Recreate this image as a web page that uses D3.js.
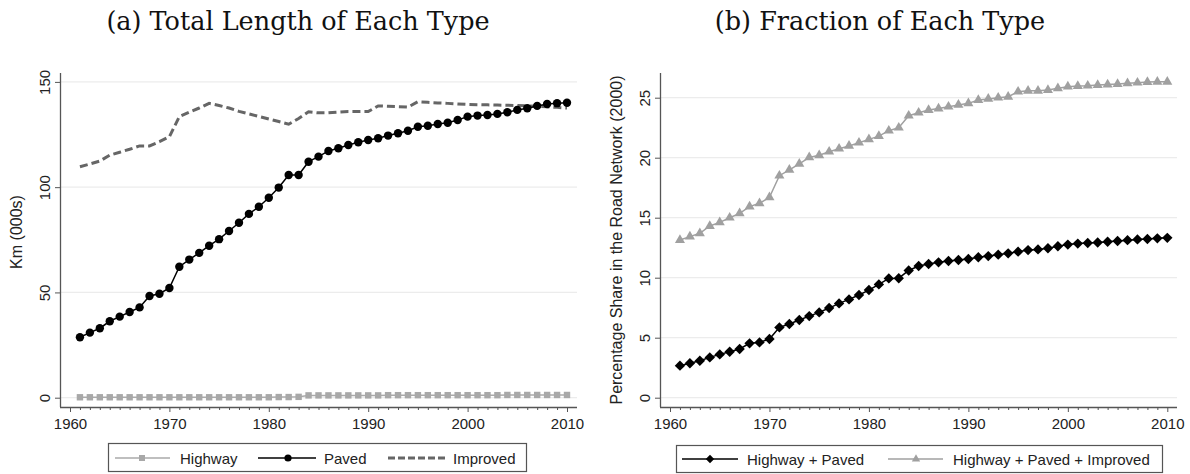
<!DOCTYPE html>
<html><head><meta charset="utf-8">
<script src="https://cdn.jsdelivr.net/npm/d3@7"></script>
<style>body{margin:0;background:#fff}svg{display:block}</style>
</head><body>
<svg id="c" width="1190" height="474"></svg>
<script>
const years = d3.range(1961, 2011);
const highway = [0.2,0.2,0.2,0.2,0.2,0.2,0.2,0.2,0.2,0.2,0.2,0.2,0.2,0.2,0.2,0.2,0.2,0.2,0.2,0.2,0.3,0.3,0.4,1.1,1.1,1.1,1.1,1.1,1.1,1.1,1.1,1.2,1.2,1.2,1.2,1.2,1.2,1.2,1.2,1.2,1.2,1.2,1.2,1.3,1.3,1.3,1.3,1.3,1.3,1.3];
const paved = [28.7,30.9,33.0,36.3,38.5,40.7,42.9,48.3,49.4,52.1,62.2,65.6,68.8,72.2,75.3,79.2,83.1,87.3,90.7,95.0,99.8,105.8,105.8,112.1,114.5,117.2,118.5,120.0,121.3,122.4,123.2,124.5,125.6,126.8,128.7,129.2,130.0,130.6,131.9,133.5,134.0,134.3,134.8,135.6,136.7,137.5,138.6,139.5,139.9,140.1];
const improved = [109.7,111.0,112.4,115.2,116.6,118.0,119.6,119.6,121.6,124.0,133.5,135.6,137.6,139.8,138.8,137.6,136.0,134.8,133.6,132.4,131.2,129.9,132.6,135.8,135.3,135.3,135.6,135.9,135.9,135.9,138.6,138.4,138.2,138.0,140.6,140.3,140.0,139.8,139.5,139.3,139.2,139.1,139.0,138.9,138.8,138.6,138.4,138.2,137.9,137.6];
const hwPaved = [2.67,2.87,3.08,3.36,3.61,3.83,4.06,4.53,4.61,4.89,5.86,6.14,6.47,6.80,7.11,7.47,7.86,8.19,8.56,8.97,9.44,9.94,9.96,10.6,10.97,11.14,11.28,11.39,11.47,11.56,11.70,11.80,11.92,12.03,12.17,12.30,12.36,12.45,12.62,12.76,12.84,12.89,12.93,13.00,13.06,13.13,13.19,13.23,13.28,13.32];
const hwPavedImp = [13.14,13.42,13.70,14.31,14.61,15.00,15.36,15.92,16.20,16.70,18.50,18.98,19.48,20.03,20.20,20.50,20.75,20.98,21.25,21.53,21.80,22.25,22.50,23.50,23.75,23.97,24.10,24.25,24.40,24.53,24.80,24.90,25.00,25.08,25.50,25.58,25.58,25.64,25.78,25.92,25.97,26.00,26.06,26.10,26.14,26.20,26.25,26.30,26.33,26.33];
const xTicks = [1960,1970,1980,1990,2000,2010];
const yTicksA = [0,50,100,150];
const yTicksB = [0,5,10,15,20,25];
const titles = ["(a) Total Length of Each Type","(b) Fraction of Each Type"];
const yLabels = ["Km (000s)","Percentage Share in the Road Network (2000)"];
const legendA = ["Highway","Paved","Improved"];
const legendB = ["Highway + Paved","Highway + Paved + Improved"];

const svg = d3.select("#c");
const axisCol = "#555", gridCol = "#ececec", sans = "'Liberation Sans', Arial, sans-serif";
const diaPath = "M0,-5.2L5.2,0L0,5.2L-5.2,0Z";
const tri = d3.symbol().type(d3.symbolTriangle).size(44)();

function panel(cfg){
  const g = svg.append("g");
  const x = d3.scaleLinear().domain([1960,2010]).range([cfg.x0, cfg.x1]);
  const y = d3.scaleLinear().domain(cfg.ydom).range(cfg.yr);
  g.append("g").selectAll("line").data(cfg.yticks).join("line")
    .attr("x1", cfg.left).attr("x2", cfg.right).attr("y1", d=>y(d)).attr("y2", d=>y(d))
    .attr("stroke", gridCol).attr("stroke-width",1.2);
  const xa = g.append("g").attr("transform",`translate(0,${cfg.bottom})`)
    .call(d3.axisBottom(x).tickValues(xTicks).tickFormat(d3.format("d")).tickSize(5).tickSizeOuter(0));
  g.append("g").attr("transform",`translate(0,${cfg.bottom})`)
    .call(d3.axisBottom(x).tickValues(d3.range(1961,2011).filter(v=>v%10)).tickFormat("").tickSize(3).tickSizeOuter(0))
    .call(s=>s.select(".domain").remove())
    .selectAll("line").attr("stroke",axisCol);
  xa.select(".domain").attr("d",`M${cfg.left},0.5H${cfg.right}`).attr("stroke",axisCol).attr("stroke-width",1.3);
  xa.selectAll("line").attr("stroke",axisCol);
  xa.selectAll("text").attr("font-family",sans).attr("font-size",15).attr("fill","#222").attr("dy","0.95em");
  const ya = g.append("g").attr("transform",`translate(${cfg.left},0)`)
    .call(d3.axisLeft(y).tickValues(cfg.yticks).tickSize(5).tickSizeOuter(0));
  ya.select(".domain").attr("d",`M0.5,${cfg.top}V${cfg.bottom}`).attr("stroke",axisCol).attr("stroke-width",1.3);
  ya.selectAll("line").attr("stroke",axisCol);
  ya.selectAll("text").attr("font-family",sans).attr("font-size",15).attr("fill","#222")
    .attr("x",null).attr("dy",null).attr("text-anchor","middle")
    .attr("transform","translate(-10,0) rotate(-90)");
  g.append("text").attr("transform",`translate(${cfg.ylabX},${cfg.ylabY}) rotate(-90)`)
    .attr("text-anchor","middle").attr("font-family",sans).attr("font-size",16).attr("fill","#222").text(cfg.ylabel);
  g.append("text").attr("x",cfg.titleX).attr("y",30).attr("text-anchor","middle")
    .attr("font-family","'DejaVu Serif', serif").attr("font-size",25.5).attr("fill","#111").text(cfg.title);
  return {g,x,y};
}

const A = panel({x0:70,x1:567,ydom:[0,150],yr:[397.7,81.9],left:60,right:577,top:73,bottom:407,
  yticks:yTicksA,ylabX:22,ylabY:232,ylabel:yLabels[0],titleX:298,title:titles[0]});
const lineA = d=>d3.line().x((v,i)=>A.x(years[i])).y(v=>A.y(v))(d);
A.g.append("path").attr("d",lineA(highway)).attr("fill","none").attr("stroke","#aaa").attr("stroke-width",1.5);
A.g.append("g").selectAll("rect").data(highway).join("rect")
  .attr("x",(v,i)=>A.x(years[i])-3.2).attr("y",v=>A.y(v)-3.2).attr("width",6.4).attr("height",6.4).attr("fill","#a8a8a8");
A.g.append("path").attr("d",lineA(improved)).attr("fill","none").attr("stroke","#666").attr("stroke-width",3).attr("stroke-dasharray","8,4");
A.g.append("path").attr("d",lineA(paved)).attr("fill","none").attr("stroke","#000").attr("stroke-width",1.5);
A.g.append("g").selectAll("circle").data(paved).join("circle")
  .attr("cx",(v,i)=>A.x(years[i])).attr("cy",v=>A.y(v)).attr("r",4.2).attr("fill","#000");

const B = panel({x0:670,x1:1167.3,ydom:[0,25],yr:[397.7,97.7],left:660,right:1177,top:73,bottom:407,
  yticks:yTicksB,ylabX:622,ylabY:240,ylabel:yLabels[1],titleX:880,title:titles[1]});
const lineB = d=>d3.line().x((v,i)=>B.x(years[i])).y(v=>B.y(v))(d);
B.g.append("path").attr("d",lineB(hwPavedImp)).attr("fill","none").attr("stroke","#a0a0a0").attr("stroke-width",1.5);
B.g.append("g").selectAll("path").data(hwPavedImp).join("path")
  .attr("d",tri).attr("transform",(v,i)=>`translate(${B.x(years[i])},${B.y(v)})`).attr("fill","#a0a0a0");
B.g.append("path").attr("d",lineB(hwPaved)).attr("fill","none").attr("stroke","#000").attr("stroke-width",1.5);
B.g.append("g").selectAll("path").data(hwPaved).join("path")
  .attr("d",diaPath).attr("transform",(v,i)=>`translate(${B.x(years[i])},${B.y(v)})`).attr("fill","#000");

function legendBox(x,y,w,h){
  svg.append("rect").attr("x",x).attr("y",y).attr("width",w).attr("height",h)
    .attr("fill","#fff").attr("stroke","#555").attr("stroke-width",1.2);
}
function legText(x,y,t){
  svg.append("text").attr("x",x).attr("y",y).attr("font-family",sans).attr("font-size",15).attr("fill","#222").text(t);
}
legendBox(108.5,443.5,418,28);
svg.append("line").attr("x1",115).attr("x2",170).attr("y1",458).attr("y2",458).attr("stroke","#aaa").attr("stroke-width",1.5);
svg.append("rect").attr("x",139).attr("y",455).attr("width",6).attr("height",6).attr("fill","#a8a8a8");
legText(180,463.5,legendA[0]);
svg.append("line").attr("x1",258).attr("x2",316).attr("y1",458).attr("y2",458).attr("stroke","#000").attr("stroke-width",1.5);
svg.append("circle").attr("cx",288).attr("cy",458).attr("r",3.6).attr("fill","#000");
legText(324,463.5,legendA[1]);
svg.append("line").attr("x1",388).attr("x2",445).attr("y1",458).attr("y2",458).attr("stroke","#666").attr("stroke-width",3).attr("stroke-dasharray","7,3");
legText(453,463.5,legendA[2]);

legendBox(676.5,445.5,486,27);
svg.append("line").attr("x1",682).attr("x2",738).attr("y1",459).attr("y2",459).attr("stroke","#000").attr("stroke-width",1.5);
svg.append("path").attr("d","M0,-4.2L4.2,0L0,4.2L-4.2,0Z").attr("transform","translate(710,459)").attr("fill","#000");
legText(747,465,legendB[0]);
svg.append("line").attr("x1",888).attr("x2",943).attr("y1",459).attr("y2",459).attr("stroke","#a0a0a0").attr("stroke-width",1.5);
svg.append("path").attr("d",d3.symbol().type(d3.symbolTriangle).size(30)()).attr("transform","translate(916,459)").attr("fill","#a0a0a0");
legText(953,465,legendB[1]);
</script>
</body></html>
